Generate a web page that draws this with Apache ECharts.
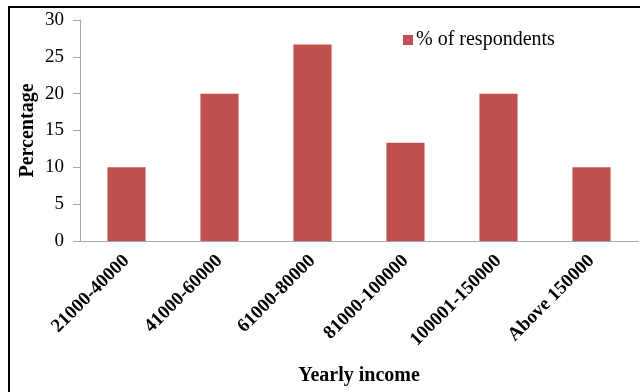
<!DOCTYPE html>
<html>
<head>
<meta charset="utf-8">
<script src="https://cdn.jsdelivr.net/npm/echarts@6/dist/echarts.min.js"></script>
<style>
  html, body { margin: 0; padding: 0; background: #fff; }
  #chart { width: 640px; height: 392px; }
</style>
</head>
<body>
<div id="chart"></div>
<script>
// income groups and share of respondents (%)
const categories = ['21000-40000', '41000-60000', '61000-80000', '81000-100000', '100001-150000', 'Above 150000'];
const respondents = [10, 20, 26.67, 13.33, 20, 10];
const seriesName = '% of respondents';

const font = 'Liberation Serif, Times New Roman, serif';

let chart = echarts.init(document.getElementById('chart'));
chart.setOption({
  animation: false,
  backgroundColor: '#ffffff',
  textStyle: { fontFamily: font },
  graphic: [
    {
      type: 'rect',
      shape: { x: 9, y: 7, width: 700, height: 500 },
      style: { fill: 'none', stroke: '#000', lineWidth: 2 }
    }
  ],
  legend: {
    left: 398,
    top: 25,
    itemWidth: 10,
    itemHeight: 10,
    itemGap: 6,
    icon: 'rect',
    textStyle: { fontFamily: font, fontSize: 20, color: '#000', padding: [0, 0, 0, -2] },
    data: [seriesName]
  },
  grid: { left: 80, right: 2, top: 20, bottom: 151, containLabel: false },
  xAxis: {
    type: 'category',
    data: categories,
    name: 'Yearly income',
    nameLocation: 'middle',
    nameGap: 125,
    nameMoveOverlap: false,
    nameTextStyle: { fontFamily: font, fontSize: 20, fontWeight: 'bold', color: '#000' },
    axisLine: { lineStyle: { color: '#a6a6a6', width: 1 } },
    axisTick: { show: false },
    axisLabel: {
      rotate: 45,
      interval: 0,
      margin: 17,
      fontFamily: font,
      fontSize: 19,
      fontWeight: 'bold',
      color: '#000'
    }
  },
  yAxis: {
    type: 'value',
    min: 0,
    max: 30,
    interval: 5,
    name: 'Percentage',
    nameLocation: 'middle',
    nameRotate: 90,
    nameGap: 42,
    nameMoveOverlap: false,
    nameTextStyle: { fontFamily: font, fontSize: 20, fontWeight: 'bold', color: '#000' },
    axisLine: { show: true, lineStyle: { color: '#a6a6a6', width: 1 } },
    axisTick: { show: true, inside: false, length: 7, lineStyle: { color: '#a6a6a6' } },
    splitLine: { show: false },
    axisLabel: { margin: 16, fontFamily: font, fontSize: 19, color: '#000' }
  },
  series: [
    {
      name: seriesName,
      type: 'bar',
      data: respondents,
      barWidth: '41%',
      itemStyle: { color: '#c0504d' }
    }
  ]
});
</script>
</body>
</html>
